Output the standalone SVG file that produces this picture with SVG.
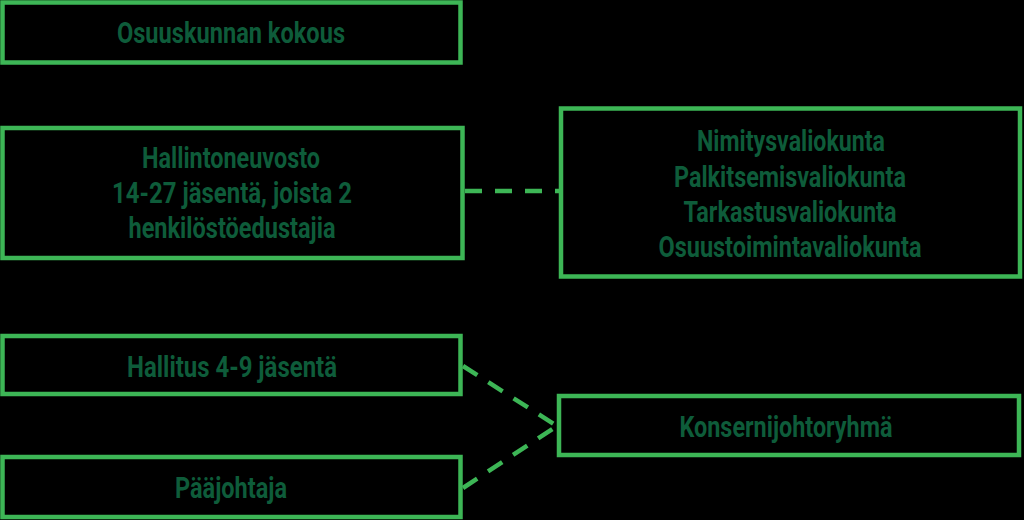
<svg xmlns="http://www.w3.org/2000/svg" width="1024" height="520" viewBox="0 0 1024 520">
<style>
.box{fill:#000;stroke:#3db656;stroke-width:4.5}
.lbl{font-family:Roboto,"Liberation Sans",sans-serif;font-weight:700;font-size:29px;fill:#0e5c3a;text-anchor:middle}
.dash{fill:none;stroke:#3db656;stroke-width:4.5;stroke-dasharray:17 13}
</style>
<rect x="0" y="0" width="1024" height="520" fill="#000"/>
<g id="connectors">
<line class="dash" x1="465" y1="191" x2="559" y2="191"/>
<line class="dash" x1="463" y1="366" x2="557" y2="426"/>
<line class="dash" x1="463" y1="488" x2="557" y2="426"/>
</g>
<g id="osuuskunnan-kokous">
<rect class="box" x="2.5" y="2.5" width="458" height="60"/>
<text class="lbl" x="231" y="43" textLength="228" lengthAdjust="spacingAndGlyphs">Osuuskunnan kokous</text>
</g>
<g id="hallintoneuvosto">
<rect class="box" x="2.5" y="128" width="460" height="130"/>
<text class="lbl" x="231" y="168" textLength="178" lengthAdjust="spacingAndGlyphs">Hallintoneuvosto</text>
<text class="lbl" x="232" y="203" textLength="240" lengthAdjust="spacingAndGlyphs">14-27 jäsentä, joista 2</text>
<text class="lbl" x="232" y="238" textLength="207" lengthAdjust="spacingAndGlyphs">henkilöstöedustajia</text>
</g>
<g id="valiokunnat">
<rect class="box" x="561" y="108.5" width="459" height="168"/>
<text class="lbl" x="791" y="151" textLength="188" lengthAdjust="spacingAndGlyphs">Nimitysvaliokunta</text>
<text class="lbl" x="790" y="187" textLength="232" lengthAdjust="spacingAndGlyphs">Palkitsemisvaliokunta</text>
<text class="lbl" x="790" y="222" textLength="213" lengthAdjust="spacingAndGlyphs">Tarkastusvaliokunta</text>
<text class="lbl" x="790" y="257" textLength="263" lengthAdjust="spacingAndGlyphs">Osuustoimintavaliokunta</text>
</g>
<g id="hallitus">
<rect class="box" x="2.5" y="336" width="458" height="58"/>
<text class="lbl" x="232" y="377" textLength="210" lengthAdjust="spacingAndGlyphs">Hallitus 4-9 jäsentä</text>
</g>
<g id="paajohtaja">
<rect class="box" x="2.5" y="457" width="458" height="60"/>
<text class="lbl" x="231" y="498" textLength="112" lengthAdjust="spacingAndGlyphs">Pääjohtaja</text>
</g>
<g id="konsernijohtoryhma">
<rect class="box" x="559" y="396" width="460" height="59"/>
<text class="lbl" x="786" y="437" textLength="213" lengthAdjust="spacingAndGlyphs">Konsernijohtoryhmä</text>
</g>
</svg>
